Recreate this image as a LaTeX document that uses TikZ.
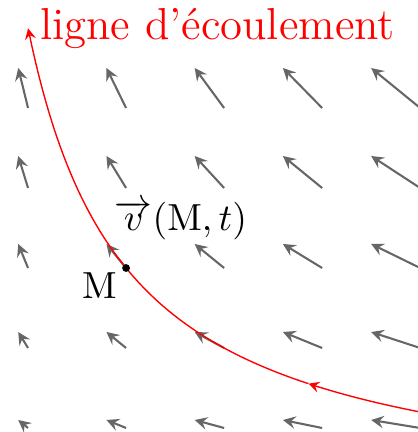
\documentclass[tikz,border=0pt]{standalone}
\usepackage{amsmath}
\usetikzlibrary{arrows,positioning}

\begin{document}
\begin{tikzpicture}[x=1cm, y=0.816cm,
    every node/.style={font=\fontsize{10.95}{13}\selectfont},
    vec/.style={-stealth, semithick, black!60},
    flow/.style={-stealth, red}]
    \useasboundingbox (0.714,0.95) rectangle (4.97,6.35);
    \foreach \i in {1,...,5}
        \foreach \j in {1,...,5}
            \draw[vec] (\i,\j) -- ++(-0.1*\i,0.1*\j);
    \draw[flow] plot[domain=5.3:3.86, samples=40] (\x,{6/\x});
    \draw[flow] plot[domain=3.86:1, samples=80] (\x,{6/\x}) node[right, font=\fontsize{13}{16}\selectfont] (title) {ligne d'écoulement};
    \node[circle, fill, inner sep=0.8pt] (M) at (2,3) {};
    \node[below left=-3pt and -2pt of M] (Mlabel) {M};
    \node (vlabel) at (2.56,3.6) {$\overrightarrow{v}(\mathrm{M},t)$};
\end{tikzpicture}
\end{document}
